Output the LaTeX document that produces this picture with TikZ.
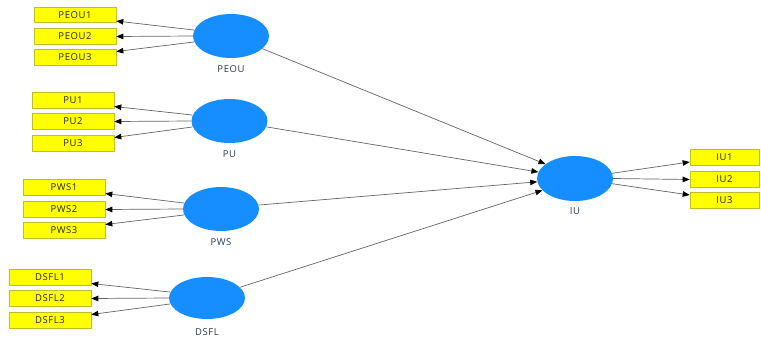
\documentclass[tikz,border=0pt]{standalone}
\usepackage{fontspec}
\setmainfont{Open Sans}
\newfontfamily\lblfont[LetterSpace=6]{Open Sans}
\usetikzlibrary{arrows.meta,shapes.geometric}
\definecolor{lv}{RGB}{22,142,255}
\definecolor{ind}{RGB}{255,255,0}
\definecolor{indb}{RGB}{190,190,40}
\definecolor{ln}{RGB}{100,100,100}
\definecolor{lab}{RGB}{40,55,75}
\tikzset{
  lvnode/.style={ellipse,fill=lv,draw=none,minimum width=76pt,minimum height=44pt,inner sep=0pt},
  indbox/.style={rectangle,fill=ind,draw=indb,line width=0.6pt,minimum width=82pt,minimum height=15.5pt,inner sep=0pt,font=\lblfont\fontsize{9.5}{10}\selectfont,text=black!85},
  iubox/.style={indbox,minimum width=69pt},
  lvlabel/.style={font=\lblfont\fontsize{9.5}{10}\selectfont,text=lab,inner sep=0pt},
  arr/.style={draw=ln,line width=0.7pt,-{Triangle[length=7pt,width=5.5pt,color=black]}}
}
\begin{document}
\begin{tikzpicture}[x=1pt,y=-1pt]
\useasboundingbox (0,0) rectangle (761,338);
% latent variables
\node[lvnode] (peou) at (231,36) {};
\node[lvnode] (pu) at (229.5,121) {};
\node[lvnode] (pws) at (221,209) {};
\node[lvnode,minimum height=42pt] (dsfl) at (207,298) {};
\node[lvnode,minimum height=45pt] (iu) at (575,178.5) {};
% labels
\node[lvlabel] (lpeou) at (231,69) {PEOU};
\node[lvlabel] (lpu) at (229.5,154) {PU};
\node[lvlabel] (lpws) at (221,242) {PWS};
\node[lvlabel] (ldsfl) at (207,332) {DSFL};
\node[lvlabel] (liu) at (575,211) {IU};
% indicators
\node[indbox] (peou1) at (75,15) {PEOU1};
\node[indbox] (peou2) at (75,36.5) {PEOU2};
\node[indbox] (peou3) at (75,57.5) {PEOU3};
\node[indbox] (pu1) at (73,100.5) {PU1};
\node[indbox] (pu2) at (73,121.5) {PU2};
\node[indbox] (pu3) at (73,143.5) {PU3};
\node[indbox] (pws1) at (64,187.5) {PWS1};
\node[indbox] (pws2) at (64,209.5) {PWS2};
\node[indbox] (pws3) at (64,230.5) {PWS3};
\node[indbox] (dsfl1) at (50,277.5) {DSFL1};
\node[indbox] (dsfl2) at (50,298.5) {DSFL2};
\node[indbox] (dsfl3) at (50,320.5) {DSFL3};
\node[iubox] (iu1) at (724.5,157.5) {IU1};
\node[iubox] (iu2) at (724.5,179.5) {IU2};
\node[iubox] (iu3) at (724.5,200.5) {IU3};
% outer loadings
\foreach \e/\a/\b/\c in {peou/peou1/peou2/peou3, pu/pu1/pu2/pu3, pws/pws1/pws2/pws3, dsfl/dsfl1/dsfl2/dsfl3}{
  \draw[arr] ([xshift=1pt,yshift=6pt]\e.west) -- ([yshift=-6pt]\a.east);
  \draw[arr] (\e.west) -- (\b.east);
  \draw[arr] ([xshift=1pt,yshift=-6pt]\e.west) -- ([yshift=6pt]\c.east);
}
\draw[arr] (iu.8) -- ([yshift=-4.5pt]iu1.west);
\draw[arr] (iu.0) -- (iu2.west);
\draw[arr] (iu.-8) -- ([yshift=5.5pt]iu3.west);
% inner paths
\draw[arr] (peou.-22) -- (iu.154);
\draw[arr] (pu.-9) -- (iu.170);
\draw[arr] (pws.6) -- (iu.185);
\draw[arr] (dsfl.18) -- (iu.200);
\end{tikzpicture}
\end{document}
